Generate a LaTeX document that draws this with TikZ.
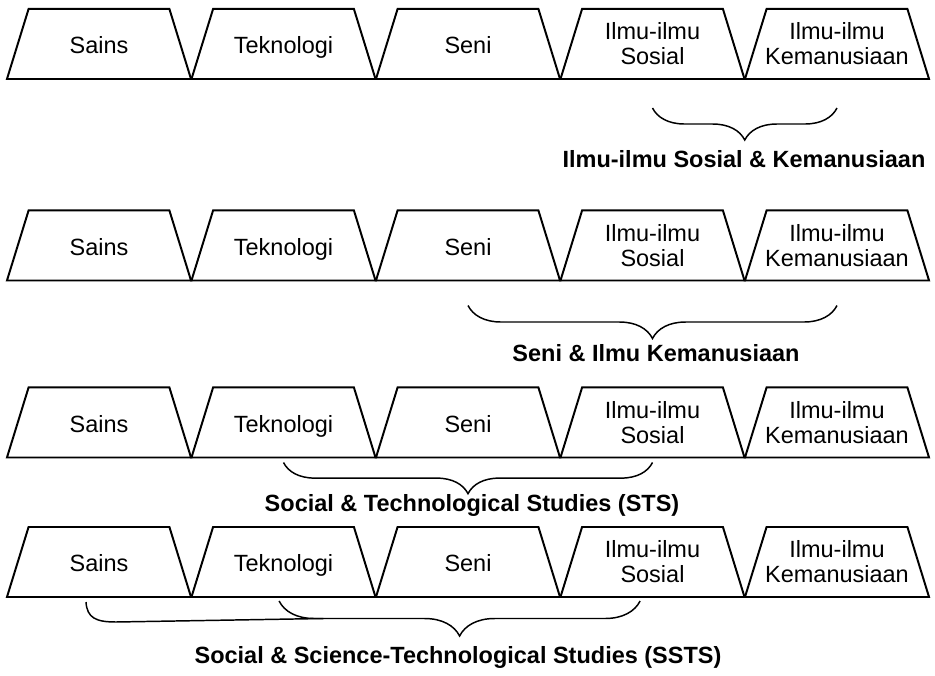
\documentclass[tikz,border=0pt]{standalone}
\usepackage{fontspec}
\setmainfont{Liberation Sans}
\usetikzlibrary{decorations.pathreplacing}

\begin{document}
\begin{tikzpicture}[x=0.025cm,y=0.025cm,
  bidang/.style={minimum width=4.6cm, minimum height=1.75cm, inner sep=0pt, outer sep=0pt,
    align=center, font=\fontsize{16.7pt}{17.8pt}\selectfont},
  satu/.style={text height=1.6em, text depth=0.2em},
  dua/.style={},
  garis/.style={line width=1.4pt, line join=miter},
  kurung/.style={decorate, decoration={brace, mirror, amplitude=#1}, line width=1.05pt},
  kurung/.default=0.8cm,
  judul/.style={anchor=base, font=\fontsize{16.7pt}{18pt}\selectfont\bfseries}]
\useasboundingbox (0,0) rectangle (935,676);
% empat baris bidang ilmu
\foreach \r/\y in {1/632,2/430.5,3/253.5,4/114}{
  \foreach \n/\t/\s [count=\c from 0] in {sains/Sains/satu, tek/Teknologi/satu, seni/Seni/satu,
      sos/{Ilmu-ilmu\\Sosial}/dua, kem/{Ilmu-ilmu\\Kemanusiaan}/dua}{
    \node[bidang,\s] (\n\r) at (99+184.5*\c,\y) {\t};
    \draw[garis] (\n\r.south west) -- ([xshift=0.54cm]\n\r.north west)
      -- ([xshift=-0.54cm]\n\r.north east) -- (\n\r.south east) -- cycle;
  }
}
% kurung kurawal
\draw[kurung] ([yshift=-0.725cm]sos1.south) -- ([yshift=-0.725cm]kem1.south);
\node[judul] (lab1) at (744,508) {Ilmu-ilmu Sosial \& Kemanusiaan};
\draw[kurung=0.825cm] ([yshift=-0.625cm]seni2.south) -- ([yshift=-0.625cm]kem2.south);
\node[judul] (lab2) at (656,314.5) {Seni \& Ilmu Kemanusiaan};
\draw[kurung=0.78cm] ([yshift=-0.125cm]tek3.south) -- ([yshift=-0.125cm]sos3.south);
\node[judul] (lab3) at (472,164.5) {Social \& Technological Studies (STS)};
\draw[kurung=0.875cm] ([xshift=-0.11cm,yshift=-0.1cm]tek4.south) -- ([xshift=-0.31cm,yshift=-0.1cm]sos4.south);
\coordinate (c4) at ([shift={(-13,-5)}]sains4.south);
\coordinate (j4) at ([shift={(40,-21.5)}]tek4.south);
\draw[line width=1.05pt] (c4) .. controls +(1,-16) and +(-20,0) .. ([shift={(30,-20)}]c4) -- (j4);
\node[judul] (lab4) at (458,12.5) {Social \& Science-Technological Studies (SSTS)};
\end{tikzpicture}
\end{document}
